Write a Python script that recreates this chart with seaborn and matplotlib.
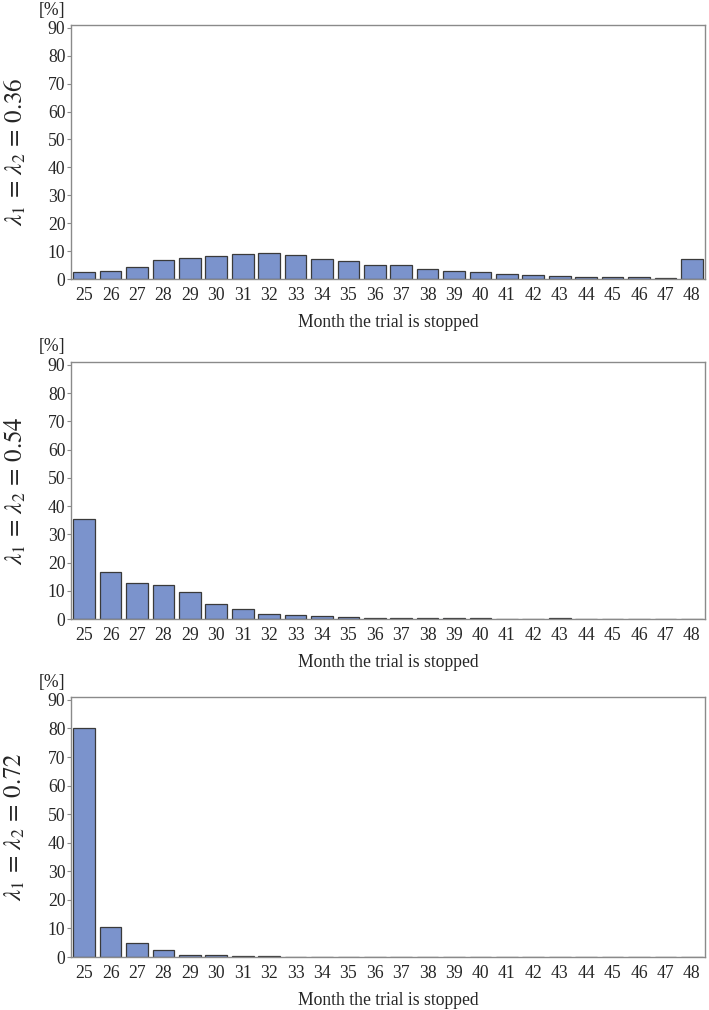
import matplotlib
matplotlib.use('Agg')
import matplotlib.pyplot as plt
import seaborn as sns
import pandas as pd

sns.set_style('white')
plt.rcParams['font.family'] = ['Liberation Serif', 'DejaVu Serif']
plt.rcParams['mathtext.fontset'] = 'stix'

months = [str(m) for m in range(25, 49)]

# percentage of simulated trials stopped at each month
pct_036 = [2.6, 3.0, 4.3, 6.8, 7.6, 8.1, 9.0, 9.3, 8.7, 7.3, 6.4, 4.9,
           4.9, 3.5, 3.0, 2.5, 1.9, 1.3, 1.0, 0.8, 0.6, 0.6, 0.3, 7.0]
pct_054 = [35.5, 16.6, 12.8, 11.9, 9.5, 5.2, 3.4, 1.9, 1.5, 0.9, 0.7, 0.5,
           0.3, 0.3, 0.3, 0.3, 0.1, 0.1, 0.4, 0.0, 0.0, 0.0, 0.0, 0.0]
pct_072 = [80.2, 10.4, 5.0, 2.5, 0.8, 0.8, 0.2, 0.2, 0.0, 0.0, 0.0, 0.0,
           0.0, 0.0, 0.0, 0.0, 0.0, 0.0, 0.0, 0.0, 0.0, 0.0, 0.0, 0.0]

panels = [
    (r'$\lambda_1\,=\,\lambda_2\,=\,0.36$', pct_036),
    (r'$\lambda_1\,=\,\lambda_2\,=\,0.54$', pct_054),
    (r'$\lambda_1\,=\,\lambda_2\,=\,0.72$', pct_072),
]

W, H = 709, 1010
fig = plt.figure(figsize=(W / 100, H / 100), dpi=100)

# axes boxes in pixels: (top, bottom)
boxes = [(25, 279), (362, 619), (697, 957)]
left, right = 71, 705

bar_color = '#7b93cc'
spine_color = '#8a8a8a'
fs = 12.7

for (label, vals), (top, bottom) in zip(panels, boxes):
    ax = fig.add_axes([left / W, 1 - bottom / H, (right - left) / W, (bottom - top) / H])
    df = pd.DataFrame({'month': months, 'pct': vals})
    sns.barplot(data=df, x='month', y='pct', order=months, color=bar_color,
                saturation=1, width=0.82, edgecolor='#3a3a3a', linewidth=0.9, ax=ax)
    ax.set_xlim(-0.5, len(months) - 0.5)
    ax.set_ylim(0, 91)
    ax.set_yticks(range(0, 91, 10))
    ax.tick_params(axis='y', length=3, width=0.8, color=spine_color, pad=1,
                   labelsize=fs, left=True)
    ax.tick_params(axis='x', length=0, pad=6, labelsize=fs)
    for s in ax.spines.values():
        s.set_color(spine_color)
        s.set_linewidth(1.0)
    ax.set_ylabel('')
    ax.set_xlabel('Month the trial is stopped', fontsize=fs, labelpad=7)
    ax.annotate('[%]', xy=(0, 1), xycoords='axes fraction', xytext=(-19, 15),
                textcoords='offset pixels', ha='center', va='center', fontsize=fs)
    fig.text(15 / W, 1 - (top + bottom) / 2 / H, label, rotation=90,
             ha='center', va='center', fontsize=18)

fig.savefig('out.png', dpi=100)
